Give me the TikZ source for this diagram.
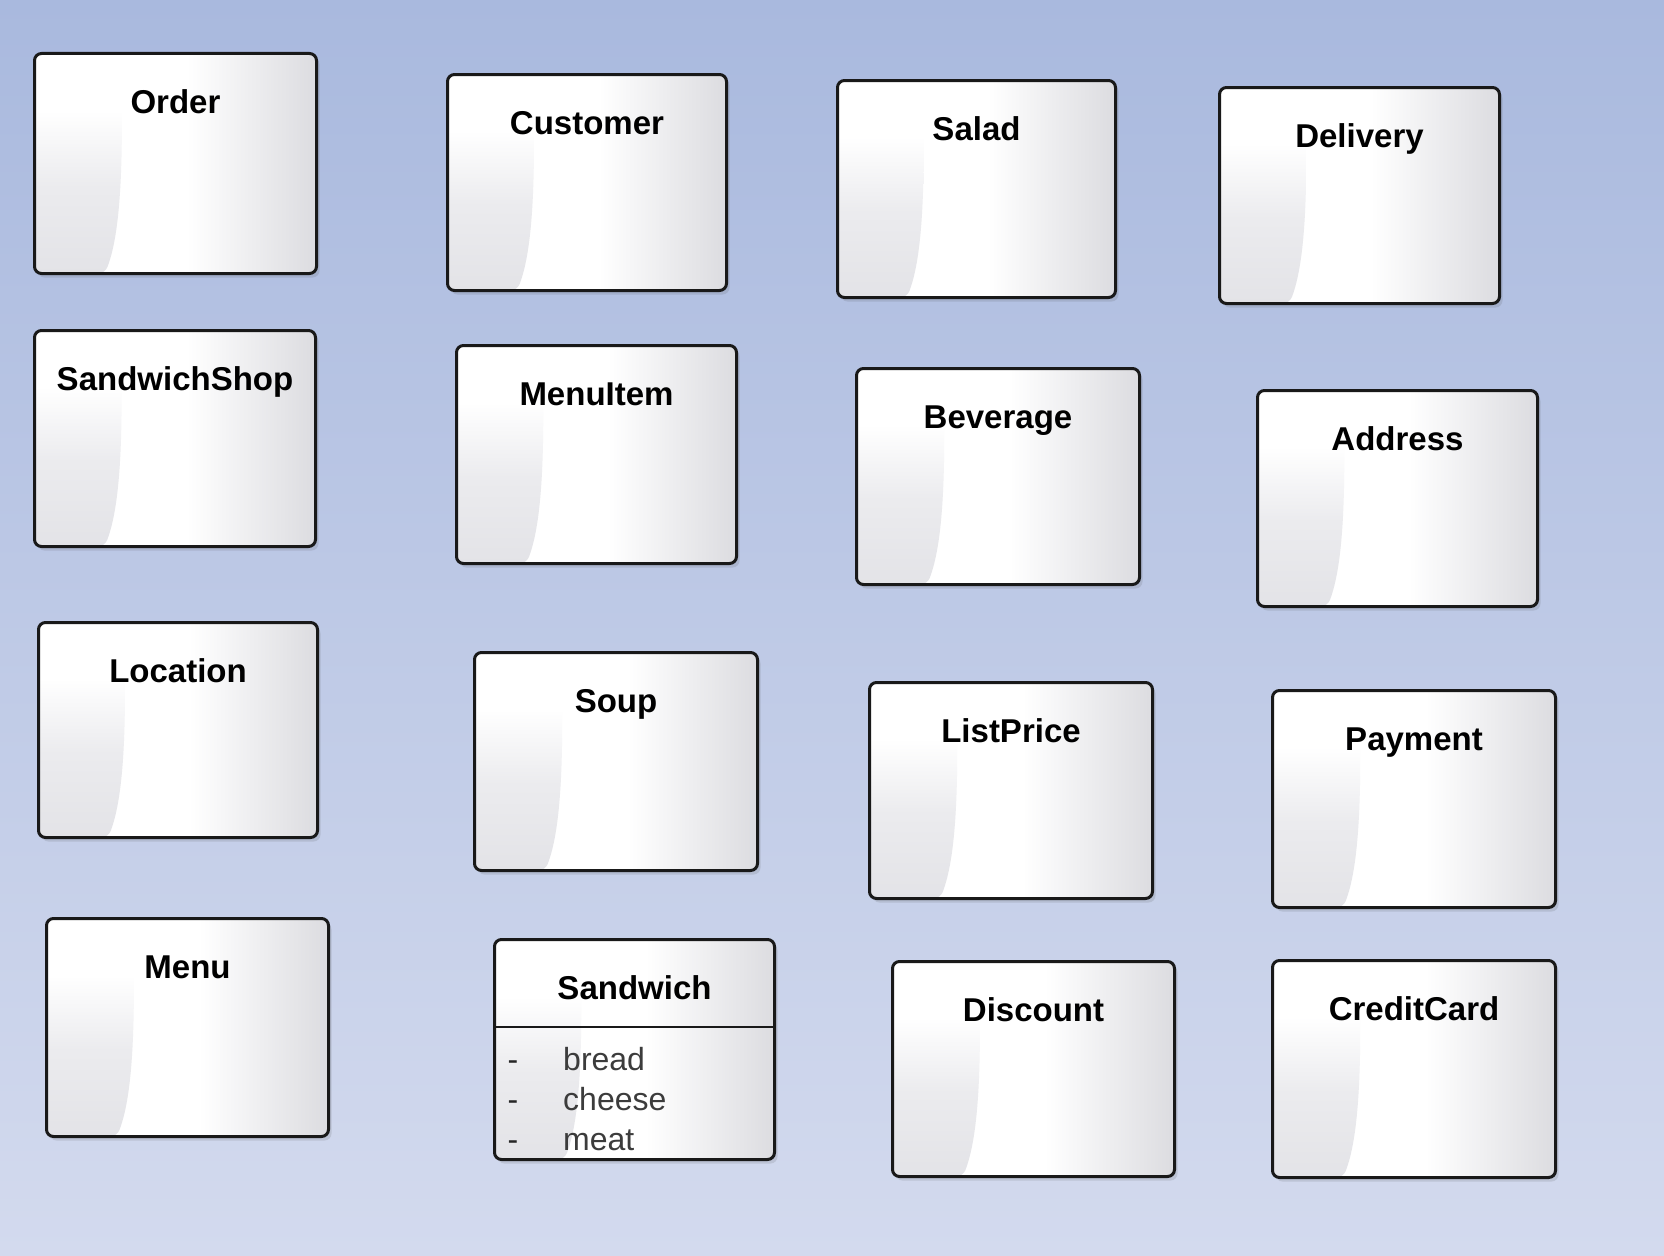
\documentclass[tikz,border=0pt]{standalone}
\usepackage{fontspec}
\setmainfont{Liberation Sans}
\usetikzlibrary{shadows,calc}
\definecolor{bgtop}{HTML}{A9B9DE}
\definecolor{bgbot}{HTML}{D3DAEE}
\definecolor{bxg}{HTML}{DCDCE0}
\definecolor{bxl}{HTML}{E3E3E7}
\definecolor{attrc}{HTML}{3C3C3C}
\pgfdeclarehorizontalshading{boxh}{100bp}{color(0bp)=(white); color(25bp)=(white); color(52bp)=(white); color(75bp)=(bxg); color(100bp)=(bxg)}
\pgfdeclareverticalshading{glare}{100bp}{color(0bp)=(bxl); color(25bp)=(bxl); color(45bp)=(bxl!70!white); color(62bp)=(white); color(100bp)=(white)}
\tikzset{
  umlbox/.style={draw=black!90, line width=3pt, rounded corners=7pt, inner sep=0pt, outer sep=0pt,
    shade, shading=boxh,
    drop shadow={shadow xshift=3pt, shadow yshift=-4pt, opacity=0.15, fill=black!70},
    path picture={
      \shade[shading=glare]
        let \p1=(path picture bounding box.north west),
            \p2=(path picture bounding box.south east),
            \n1={\x2-\x1} in
        (\x1,\y1) -- ({\x1+0.31*\n1},\y1)
        -- ({\x1+0.31*\n1},\y1-60pt)
        .. controls ({\x1+0.31*\n1},{\y2+70pt}) and ({\x1+0.29*\n1},{\y2+30pt}) ..
        ({\x1+0.25*\n1},\y2) -- (\x1,\y2) -- cycle;
    }},
  classtitle/.style={font=\fontsize{33}{40}\selectfont\bfseries, anchor=base, inner sep=0pt},
  attrtext/.style={font=\fontsize{32}{38}\selectfont, text=attrc, anchor=base west, inner sep=0pt},
  attrdash/.style={font=\fontsize{32}{38}\selectfont, text=black!85, anchor=base, inner sep=0pt},
}
\newcommand\umlclass[6]{%
  \node[umlbox, minimum width={(#4-#2-3)*1pt}, minimum height={(#5-#3-3)*1pt}]
    (#1) at ({(#2+#4)/2},{(#3+#5)/2}) {};
  \node[classtitle] (#1-title) at ([yshift=-60pt]#1.north) {#6};
}
\begin{document}
\begin{tikzpicture}[x=1pt,y=-1pt]
\useasboundingbox (0,0) rectangle (1664,1255);
\shade[top color=bgtop, bottom color=bgbot] (0,0) rectangle (1664,1255);

% row 1
\umlclass{order}{33}{52}{318}{275}{Order}
\umlclass{customer}{446}{73}{728}{292}{Customer}
\umlclass{salad}{836}{79}{1117}{299}{Salad}
\umlclass{delivery}{1218}{86}{1501}{305}{Delivery}
% row 2
\umlclass{shop}{33}{329}{317}{548}{SandwichShop}
\umlclass{menuitem}{455}{344}{738}{565}{MenuItem}
\umlclass{beverage}{855}{367}{1141}{586}{Beverage}
\umlclass{address}{1256}{389}{1539}{608}{Address}
% row 3
\umlclass{location}{37}{621}{319}{839}{Location}
\umlclass{soup}{473}{651}{759}{872}{Soup}
\umlclass{listprice}{868}{681}{1154}{900}{ListPrice}
\umlclass{payment}{1271}{689}{1557}{909}{Payment}
% row 4
\umlclass{menu}{45}{917}{330}{1138}{Menu}
\umlclass{sandwich}{493}{938}{776}{1161}{Sandwich}
\umlclass{discount}{891}{960}{1176}{1178}{Discount}
\umlclass{creditcard}{1271}{959}{1557}{1179}{CreditCard}

% Sandwich compartment
\coordinate (divy) at (0,1027);
\draw[black!90, line width=2.5pt] (sandwich.west |- divy) -- (sandwich.east |- divy);
\node[attrdash] (d1) at (513,1070) {-};
\node[attrtext] (a1) at (563,1070) {bread};
\node[attrdash] (d2) at (513,1110) {-};
\node[attrtext] (a2) at (563,1110) {cheese};
\node[attrdash] (d3) at (513,1150) {-};
\node[attrtext] (a3) at (563,1150) {meat};
\end{tikzpicture}
\end{document}
